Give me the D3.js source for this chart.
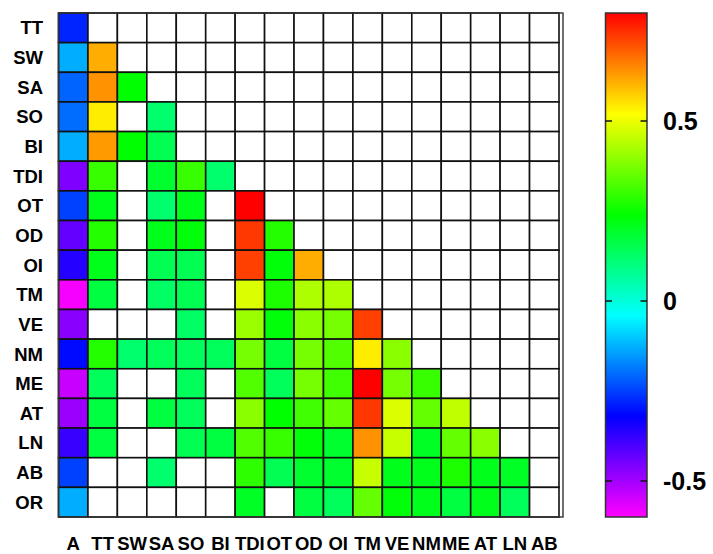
<!DOCTYPE html>
<html>
<head>
<meta charset="utf-8">
<script src="https://cdn.jsdelivr.net/npm/d3@7"></script>
<style>
  body { margin: 0; background: #fff; }
  text { font-family: "Liberation Sans", Arial, sans-serif; font-weight: bold; fill: #000; }
</style>
</head>
<body>
<div class="chartContainer"></div>
<script>
// row and column names of the matrix
const rowNames = ['TT', 'SW', 'SA', 'SO', 'BI', 'TDI', 'OT', 'OD', 'OI', 'TM', 'VE', 'NM', 'ME', 'AT', 'LN', 'AB', 'OR'];
const colNames = ['A', 'TT', 'SW', 'SA', 'SO', 'BI', 'TDI', 'OT', 'OD', 'OI', 'TM', 'VE', 'NM', 'ME', 'AT', 'LN', 'AB'];

// lower triangle, null = not significant (white cell)
const rTT  = [-0.28];
const rSW  = [-0.13, 0.61];
const rSA  = [-0.21, 0.64, 0.24];
const rSO  = [-0.20, 0.54, null, 0.12];
const rBI  = [-0.13, 0.63, 0.24, 0.15, null];
const rTDI = [-0.46, 0.30, null, 0.19, 0.30, 0.12];
const rOT  = [-0.25, 0.21, null, 0.12, 0.21, null, 0.80];
const rOD  = [-0.43, 0.28, null, 0.21, 0.23, null, 0.74, 0.28];
const rOI  = [-0.36, 0.21, null, 0.15, 0.15, null, 0.73, 0.23, 0.61];
const rTM  = [-0.59, 0.17, null, 0.13, 0.15, null, 0.48, 0.27, 0.43, 0.43];
const rVE  = [-0.47, null, null, null, 0.13, null, 0.41, 0.23, 0.39, 0.37, 0.73];
const rNM  = [-0.31, 0.28, 0.12, 0.14, 0.14, 0.14, 0.37, 0.17, 0.37, 0.33, 0.54, 0.39];
const rME  = [-0.54, 0.14, null, null, 0.14, null, 0.33, 0.14, 0.37, 0.31, 0.80, 0.37, 0.30];
const rAT  = [-0.49, 0.17, null, 0.17, 0.14, null, 0.39, 0.24, 0.31, 0.35, 0.74, 0.48, 0.35, 0.45];
const rLN  = [-0.38, 0.17, null, null, 0.15, 0.17, 0.33, 0.30, 0.23, 0.19, 0.64, 0.46, 0.20, 0.35, 0.39];
const rAB  = [-0.25, null, null, 0.12, null, null, 0.29, 0.15, 0.19, 0.19, 0.46, 0.21, 0.21, 0.27, 0.21, 0.20];
const rOR  = [-0.13, null, null, null, null, null, 0.20, null, 0.17, 0.14, 0.35, 0.23, 0.21, 0.17, 0.21, 0.14, null];

const matrix = [rTT, rSW, rSA, rSO, rBI, rTDI, rOT, rOD, rOI, rTM, rVE, rNM, rME, rAT, rLN, rAB, rOR];

const colorTicks = [0.5, 0, -0.5];
const colorDomain = [-0.6, 0.8];

const w = 713;
const h = 554;

var cells = [];
matrix.forEach((row, i) => {
  colNames.forEach((c, j) => {
    var v = j < row.length ? row[j] : null;
    cells.push({ row: rowNames[i], col: c, value: v });
  });
});

const xScale = d3.scaleBand().domain(colNames).range([58.5, 559]);
const yScale = d3.scaleBand().domain(rowNames).range([13, 517]);

// magenta -> blue -> cyan -> green -> yellow -> red, evenly spaced
const stopVals = d3.range(6).map((i) => colorDomain[0] + i * (colorDomain[1] - colorDomain[0]) / 5);
const color = d3.scaleLinear()
  .domain(stopVals)
  .range(['#ff00ff', '#0000ff', '#00ffff', '#00ff00', '#ffff00', '#ff0000'])
  .clamp(true);

const svg = d3.select('.chartContainer')
  .append('svg')
  .attr('width', w)
  .attr('height', h);

svg.selectAll('rect.cell')
  .data(cells)
  .enter()
  .append('rect')
  .attr('class', 'cell')
  .attr('x', (d) => xScale(d.col))
  .attr('y', (d) => yScale(d.row))
  .attr('width', xScale.bandwidth())
  .attr('height', yScale.bandwidth())
  .attr('fill', (d) => d.value === null ? '#fff' : color(d.value))
  .attr('stroke', '#111')
  .attr('stroke-width', 1.6);

// outer frame
svg.append('rect')
  .attr('x', 58.5)
  .attr('y', 13)
  .attr('width', 563 - 58.5)
  .attr('height', 517 - 13)
  .attr('fill', 'none')
  .attr('stroke', '#333')
  .attr('stroke-width', 1.4);

svg.selectAll('text.ylab')
  .data(rowNames)
  .enter()
  .append('text')
  .attr('class', 'ylab')
  .attr('x', 43)
  .attr('y', (d) => yScale(d) + yScale.bandwidth() / 2 + 6.6)
  .attr('text-anchor', 'end')
  .style('font-size', '18.5px')
  .text((d) => d);

svg.selectAll('text.xlab')
  .data(colNames)
  .enter()
  .append('text')
  .attr('class', 'xlab')
  .attr('x', (d) => xScale(d) + xScale.bandwidth() / 2)
  .attr('y', 550)
  .attr('text-anchor', 'middle')
  .style('font-size', '18.5px')
  .text((d) => d);

// colour bar
const barX = 605.5, barW = 41.5;
const barScale = d3.scaleLinear().domain(colorDomain).range([517, 13]);

var grad = svg.append('defs').append('linearGradient')
  .attr('id', 'cbar')
  .attr('x1', 0).attr('y1', 1)
  .attr('x2', 0).attr('y2', 0);
grad.selectAll('stop')
  .data(stopVals)
  .enter()
  .append('stop')
  .attr('offset', (d) => (d - colorDomain[0]) / (colorDomain[1] - colorDomain[0]))
  .attr('stop-color', (d) => color(d));

svg.append('rect')
  .attr('x', barX)
  .attr('y', barScale(colorDomain[1]))
  .attr('width', barW)
  .attr('height', barScale(colorDomain[0]) - barScale(colorDomain[1]))
  .attr('fill', 'url(#cbar)')
  .attr('stroke', '#333')
  .attr('stroke-width', 1.5);

var ticks = svg.append('g').selectAll('g')
  .data(colorTicks)
  .enter()
  .append('g')
  .attr('transform', (d) => 'translate(0,' + barScale(d) + ')');

ticks.append('line')
  .attr('x1', barX).attr('x2', barX + 6.5)
  .attr('stroke', '#111').attr('stroke-width', 1.5);
ticks.append('line')
  .attr('x1', barX + barW - 6.5).attr('x2', barX + barW)
  .attr('stroke', '#111').attr('stroke-width', 1.5);
ticks.append('text')
  .attr('x', 663)
  .attr('y', 9)
  .style('font-size', '25px')
  .text((d) => d);
</script>
</body>
</html>
